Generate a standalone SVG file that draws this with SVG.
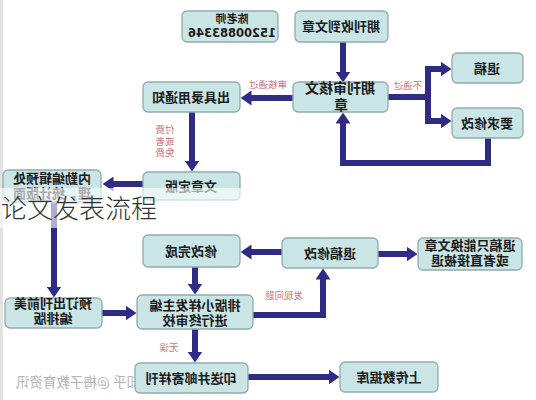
<svg xmlns="http://www.w3.org/2000/svg" width="536" height="400" viewBox="0 0 536 400">
<style>
.box{fill:#c9e5e6;stroke:#93abae;stroke-width:1.3}
.t{font-family:"Noto Sans CJK SC","Noto Sans",sans-serif;font-weight:700;font-size:13px;fill:#1c1c1c;text-anchor:middle}
.lbl{font-family:"Noto Sans CJK SC","Noto Sans",sans-serif;font-size:9.5px;fill:#c9737c;text-anchor:middle}
.arr{fill:none;stroke:#2f2b86;stroke-width:6;stroke-linejoin:miter}
</style>
<defs>
<marker id="ah" markerUnits="userSpaceOnUse" markerWidth="11" markerHeight="15" viewBox="0 0 11 15" refX="0.5" refY="7.5" orient="auto">
<path d="M0,0 L11,7.5 L0,15 z" fill="#2f2b86"/>
</marker>
</defs>
<rect x="0" y="0" width="536" height="400" fill="#ffffff"/>
<rect x="0" y="0" width="3" height="400" fill="#e2e2e2"/>

<text class="t" style="font-weight:400;font-size:13.5px;fill:#b3b3b3" transform="matrix(-1 0 0 1 78 0)" x="0" y="387">知乎 @梅子教育资讯</text>

<g id="connectors">
<path class="arr" d="M343,42 V72" marker-end="url(#ah)"/>
<path class="arr" d="M293,98 H251" marker-end="url(#ah)"/>
<path class="arr" d="M388,97 H428 V69 H441" marker-end="url(#ah)"/>
<path class="arr" d="M428,97 V121 H441" marker-end="url(#ah)"/>
<path class="arr" d="M488,138 V163 H343 V123" marker-end="url(#ah)"/>
<path class="arr" d="M192,112 V161" marker-end="url(#ah)"/>
<path class="arr" d="M143,184 H113" marker-end="url(#ah)"/>
<path class="arr" d="M54,202 V287" marker-end="url(#ah)"/>
<path class="arr" d="M102,313 H126" marker-end="url(#ah)"/>
<path class="arr" d="M253,315 H323 V279" marker-end="url(#ah)"/>
<path class="arr" d="M195,267 V284" marker-end="url(#ah)"/>
<path class="arr" d="M282,252 H251" marker-end="url(#ah)"/>
<path class="arr" d="M378,254 H407" marker-end="url(#ah)"/>
<path class="arr" d="M195,329 V352" marker-end="url(#ah)"/>
<path class="arr" d="M248,377 H329" marker-end="url(#ah)"/>
<text class="lbl" transform="matrix(-1 0 0 1 268 0)" x="0" y="88">审核通过</text>
<text class="lbl" transform="matrix(-1 0 0 1 408 0)" x="0" y="89">不通过</text>
<text class="lbl" transform="matrix(-1 0 0 1 165 0)" x="0" y="133">付费</text>
<text class="lbl" transform="matrix(-1 0 0 1 165 0)" x="0" y="145">或者</text>
<text class="lbl" transform="matrix(-1 0 0 1 165 0)" x="0" y="156">免费</text>
<text class="lbl" transform="matrix(-1 0 0 1 284 0)" x="0" y="299">发现问题</text>
<text class="lbl" transform="matrix(-1 0 0 1 169 0)" x="0" y="351">无误</text>
</g>

<g id="n-contact">
<rect class="box" x="182" y="11" width="96" height="31" rx="5"/>
<text class="t" style="font-size:11px" transform="matrix(-1 0 0 1 232 0)" x="0" y="23">陈老师</text>
<text class="t" style="font-family:'DejaVu Sans',sans-serif;font-size:11.5px" transform="matrix(-1 0 0 1 232 0)" x="0" y="37">15200883346</text>
</g>
<g id="n-receive">
<rect class="box" x="295" y="11" width="93" height="31" rx="5"/>
<text class="t" transform="matrix(-1 0 0 1 341 0)" x="0" y="31">期刊收到文章</text>
</g>
<g id="n-review">
<rect class="box" x="293" y="82" width="95" height="30" rx="5"/>
<text class="t" style="font-size:14px" transform="matrix(-1 0 0 1 340 0)" x="0" y="93">期刊审核文</text>
<text class="t" style="font-size:14px" transform="matrix(-1 0 0 1 341 0)" x="0" y="110">章</text>
</g>
<g id="n-notice">
<rect class="box" x="143" y="82" width="97" height="30" rx="5"/>
<text class="t" transform="matrix(-1 0 0 1 191 0)" x="0" y="102">出具录用通知</text>
</g>
<g id="n-reject">
<rect class="box" x="452" y="53" width="71" height="30" rx="5"/>
<text class="t" transform="matrix(-1 0 0 1 487 0)" x="0" y="73">退稿</text>
</g>
<g id="n-revise">
<rect class="box" x="452" y="108" width="71" height="30" rx="5"/>
<text class="t" transform="matrix(-1 0 0 1 487 0)" x="0" y="128">要求修改</text>
</g>
<g id="n-final">
<rect class="box" x="143" y="172" width="97" height="28" rx="5"/>
<text class="t" transform="matrix(-1 0 0 1 191 0)" x="0" y="191">文章定版</text>
</g>
<g id="n-editor">
<rect class="box" x="3" y="170" width="98" height="32" rx="5"/>
<text class="t" transform="matrix(-1 0 0 1 52 0)" x="0" y="183">内勤编辑预处</text>
<text class="t" transform="matrix(-1 0 0 1 52 0)" x="0" y="198">理，统计版面</text>
</g>
<g id="n-done">
<rect class="box" x="143" y="235" width="97" height="32" rx="5"/>
<text class="t" transform="matrix(-1 0 0 1 191 0)" x="0" y="256">修改完成</text>
</g>
<g id="n-return">
<rect class="box" x="282" y="238" width="96" height="30" rx="5"/>
<text class="t" transform="matrix(-1 0 0 1 330 0)" x="0" y="258">退稿修改</text>
</g>
<g id="n-change">
<rect class="box" x="418" y="238" width="104" height="32" rx="5"/>
<text class="t" transform="matrix(-1 0 0 1 470 0)" x="0" y="250">退稿只能换文章</text>
<text class="t" transform="matrix(-1 0 0 1 470 0)" x="0" y="265">或者直接被退</text>
</g>
<g id="n-layout">
<rect class="box" x="5" y="298" width="97" height="30" rx="5"/>
<text class="t" transform="matrix(-1 0 0 1 53 0)" x="0" y="308">预订出刊前美</text>
<text class="t" transform="matrix(-1 0 0 1 53 0)" x="0" y="323">编排版</text>
</g>
<g id="n-proof">
<rect class="box" x="137" y="295" width="116" height="34" rx="5"/>
<text class="t" transform="matrix(-1 0 0 1 195 0)" x="0" y="310">排版小样发主编</text>
<text class="t" transform="matrix(-1 0 0 1 195 0)" x="0" y="325">进行终审校</text>
</g>
<g id="n-print">
<rect class="box" x="135" y="363" width="113" height="30" rx="5"/>
<text class="t" transform="matrix(-1 0 0 1 191 0)" x="0" y="383">印送并邮寄样刊</text>
</g>
<g id="n-upload">
<rect class="box" x="340" y="362" width="98" height="30" rx="5"/>
<text class="t" transform="matrix(-1 0 0 1 389 0)" x="0" y="382">上传数据库</text>
</g>

<rect x="0" y="188" width="245" height="40" fill="#ffffff" fill-opacity="0.62"/>
<text x="1" y="218" style="font-family:'Noto Sans CJK SC',sans-serif;font-size:26px;font-weight:300;fill:#333333">论文发表流程</text>
</svg>
